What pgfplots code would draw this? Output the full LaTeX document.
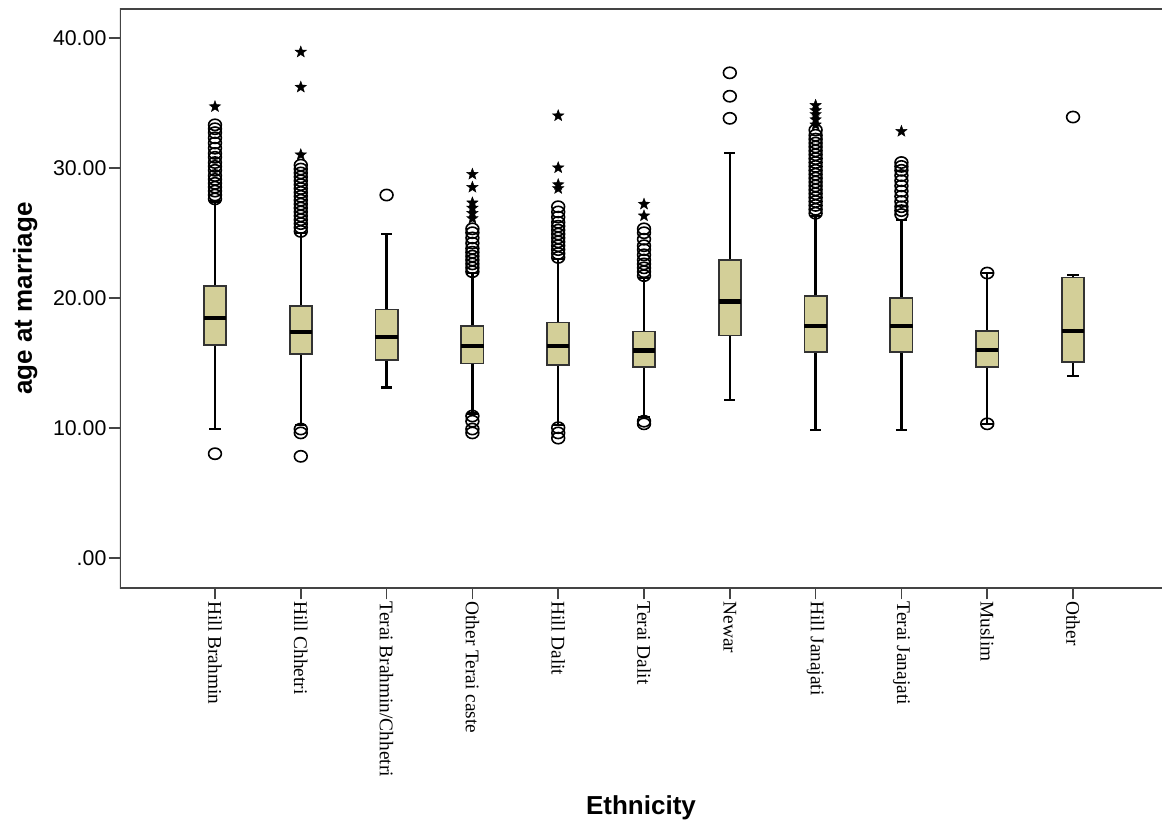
\documentclass[border=0pt]{standalone}
\usepackage{pgfplots}
\pgfplotsset{compat=1.18}
\usepgfplotslibrary{statistics}
\usepackage{fontspec}
\setmainfont{Liberation Sans}
\newfontfamily\serifx{Liberation Serif}
\definecolor{boxfill}{HTML}{D3CF98}
\definecolor{frame}{HTML}{444444}
\pgfdeclareplotmark{fivestar}{%
  \pgfpathmoveto{\pgfpointpolar{90}{\pgfplotmarksize}}%
  \pgfpathlineto{\pgfpointpolar{126}{0.42\pgfplotmarksize}}%
  \pgfpathlineto{\pgfpointpolar{162}{\pgfplotmarksize}}%
  \pgfpathlineto{\pgfpointpolar{198}{0.42\pgfplotmarksize}}%
  \pgfpathlineto{\pgfpointpolar{234}{\pgfplotmarksize}}%
  \pgfpathlineto{\pgfpointpolar{270}{0.42\pgfplotmarksize}}%
  \pgfpathlineto{\pgfpointpolar{306}{\pgfplotmarksize}}%
  \pgfpathlineto{\pgfpointpolar{342}{0.42\pgfplotmarksize}}%
  \pgfpathlineto{\pgfpointpolar{18}{\pgfplotmarksize}}%
  \pgfpathlineto{\pgfpointpolar{54}{0.42\pgfplotmarksize}}%
  \pgfpathclose\pgfusepathqfillstroke}
\begin{document}
\begin{tikzpicture}
\begin{axis}[
  scale only axis,
  width=781.5pt, height=434.25pt,
  xmin=-1.107, xmax=11.037,
  ymin=-2.33, ymax=42.21,
  axis line style={draw=none},
  tick align=outside,
  xtick pos=bottom, ytick pos=left,
  major tick length=8.5pt,
  tick style={frame, line width=1.2pt},
  xtick={0,1,2,3,4,5,6,7,8,9,10},
  xticklabels={Hill Brahmin,Hill Chhetri,Terai Brahmin/Chhetri,Other Terai caste,Hill Dalit,Terai Dalit,Newar,Hill Janajati,Terai Janajati,Muslim,Other},
  xticklabel style={rotate=-90, anchor=west, inner sep=1.5pt, font=\serifx\fontsize{14.5}{17}\selectfont},
  ytick={0,10,20,30,40},
  yticklabels={.00,10.00,20.00,30.00,40.00},
  yticklabel style={inner sep=1.5pt, font=\fontsize{16}{19}\selectfont},
  xlabel={Ethnicity},
  ylabel={age at marriage},
  every axis x label/.style={at={(axis description cs:0.5,0)}, anchor=center, yshift=-165pt, font=\fontsize{19.5}{23}\selectfont\bfseries},
  every axis y label/.style={at={(axis description cs:0,0.5)}, xshift=-71pt, rotate=90, anchor=center, font=\fontsize{19.5}{23}\selectfont\bfseries},
  boxplot/draw direction=y,
  boxplot/box extend=0.26,
  boxplot/whisker extend=0.13,
  boxplot/every box/.style={fill=boxfill, draw=black!80, line width=1.3pt},
  boxplot/every whisker/.style={draw=black, line width=1.7pt},
  boxplot/every median/.style={draw=black, line width=3.2pt},
]
\coordinate (BL) at (rel axis cs:0,0);
\coordinate (TR) at (rel axis cs:1,1);
\draw[frame, line width=1.6pt] (rel axis cs:1,1) -- (rel axis cs:0,1) -- (rel axis cs:0,0) -- (rel axis cs:1,0);

\addplot[boxplot prepared={draw position=0, median=18.45, lower quartile=16.35, upper quartile=20.9, lower whisker=9.9, upper whisker=27.4}] coordinates {};
\addplot[boxplot prepared={draw position=1, median=17.35, lower quartile=15.65, upper quartile=19.35, lower whisker=10.2, upper whisker=25.0}] coordinates {};
\addplot[boxplot prepared={draw position=2, median=17.0, lower quartile=15.2, upper quartile=19.1, lower whisker=13.1, upper whisker=24.9}] coordinates {};
\addplot[boxplot prepared={draw position=3, median=16.3, lower quartile=14.95, upper quartile=17.8, lower whisker=11.1, upper whisker=21.9}] coordinates {};
\addplot[boxplot prepared={draw position=4, median=16.3, lower quartile=14.8, upper quartile=18.1, lower whisker=10.2, upper whisker=23.0}] coordinates {};
\addplot[boxplot prepared={draw position=5, median=15.95, lower quartile=14.65, upper quartile=17.4, lower whisker=10.8, upper whisker=21.5}] coordinates {};
\addplot[boxplot prepared={draw position=6, median=19.7, lower quartile=17.1, upper quartile=22.9, lower whisker=12.15, upper whisker=31.15}] coordinates {};
\addplot[boxplot prepared={draw position=7, median=17.8, lower quartile=15.8, upper quartile=20.15, lower whisker=9.8, upper whisker=26.3}] coordinates {};
\addplot[boxplot prepared={draw position=8, median=17.8, lower quartile=15.8, upper quartile=20.0, lower whisker=9.8, upper whisker=26.0}] coordinates {};
\addplot[boxplot prepared={draw position=9, median=16.0, lower quartile=14.65, upper quartile=17.45, lower whisker=10.3, upper whisker=21.9}] coordinates {};
\addplot[boxplot prepared={draw position=10, median=17.45, lower quartile=15.05, upper quartile=21.55, lower whisker=14.0, upper whisker=21.75}] coordinates {};

% outliers (circles)
\addplot[only marks, mark=o, mark size=4.8pt, mark options={draw=black, line width=1.2pt, fill=none, yscale=0.88}] coordinates {
(0,8.0) (0,27.6) (0,27.9) (0,28.2) (0,28.5) (0,28.8) (0,29.1) (0,29.4) (0,29.8) (0,30.1) (0,30.4) (0,30.8) (0,31.1) (0,31.5) (0,31.9) (0,32.3) (0,32.7) (0,33.0) (0,33.3)
(1,7.8) (1,9.6) (1,9.9) (1,25.1) (1,25.4) (1,25.7) (1,26.0) (1,26.3) (1,26.6) (1,26.9) (1,27.2) (1,27.5) (1,27.8) (1,28.1) (1,28.4) (1,28.7) (1,29.0) (1,29.3) (1,29.6) (1,29.9) (1,30.2)
(2,27.9)
(3,9.6) (3,9.9) (3,10.5) (3,10.9) (3,22.0) (3,22.3) (3,22.6) (3,22.9) (3,23.2) (3,23.5) (3,23.8) (3,24.2) (3,24.6) (3,25.0) (3,25.3)
(4,9.2) (4,9.6) (4,10.0) (4,23.1) (4,23.4) (4,23.7) (4,24.0) (4,24.3) (4,24.6) (4,24.9) (4,25.2) (4,25.5) (4,25.8) (4,26.2) (4,26.6) (4,27.0)
(5,10.3) (5,10.5) (5,21.7) (5,22.0) (5,22.3) (5,22.6) (5,22.9) (5,23.3) (5,23.7) (5,24.0) (5,24.5) (5,25.0) (5,25.3)
(6,33.8) (6,35.5) (6,37.3)
(7,26.5) (7,26.8) (7,27.1) (7,27.4) (7,27.7) (7,28.0) (7,28.3) (7,28.6) (7,28.9) (7,29.2) (7,29.5) (7,29.8) (7,30.1) (7,30.4) (7,30.7) (7,31.0) (7,31.3) (7,31.6) (7,31.9) (7,32.2) (7,32.5) (7,32.9)
(8,26.4) (8,26.7) (8,27.0) (8,27.4) (8,27.8) (8,28.2) (8,28.6) (8,29.0) (8,29.4) (8,29.8) (8,30.1) (8,30.4)
(9,10.3) (9,21.9)
(10,33.9)
};
% extremes (stars)
\addplot[only marks, mark=fivestar, mark size=4.5pt, mark options={draw=black, fill=black, line width=0.3pt}] coordinates {
(0,34.7)
(1,31.0) (1,36.2) (1,38.9)
(3,26.1) (3,26.5) (3,26.9) (3,27.3) (3,28.5) (3,29.5)
(4,28.4) (4,28.7) (4,30.0) (4,34.0)
(5,26.3) (5,27.2)
(7,33.3) (7,33.7) (7,34.1) (7,34.4) (7,34.8)
(8,32.8)
};
\end{axis}
\path ([xshift=-90pt, yshift=-174.75pt]BL) rectangle ([yshift=6.75pt]TR);
\end{tikzpicture}
\end{document}
